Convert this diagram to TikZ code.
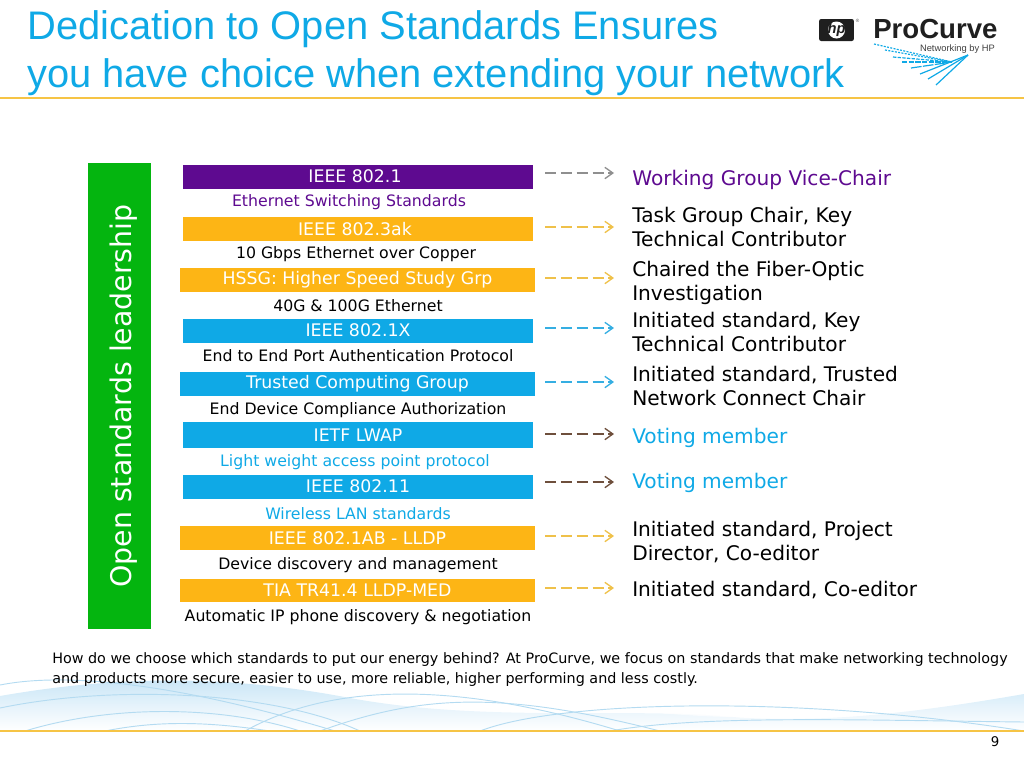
\documentclass[tikz,border=0pt]{standalone}
\usepackage{fontspec}
\setmainfont{DejaVu Sans}
\newfontfamily\titlefont{Liberation Sans}
\usetikzlibrary{arrows.meta}
\definecolor{hpblue}{HTML}{0FA9E6}
\definecolor{hppurple}{HTML}{5E0A90}
\definecolor{hporange}{HTML}{FDB515}
\definecolor{hpgreen}{HTML}{04B50F}
\definecolor{linegold}{HTML}{F6C445}
\definecolor{arrgrey}{HTML}{8F8F8F}
\definecolor{arrgold}{HTML}{EFC14A}
\definecolor{arrblue}{HTML}{35AEE2}
\definecolor{arrbrown}{HTML}{6E4F3C}
\definecolor{wavefill}{HTML}{C6E4F6}
\definecolor{waveline}{HTML}{B4DBF1}
\tikzset{
 x=0.75pt,y=-0.75pt,
 bar/.style={minimum height=18pt,inner sep=0pt,text=white,font=\fontsize{13}{15}\selectfont,anchor=center},
 sub/.style={inner sep=0pt,font=\fontsize{11.8}{14}\selectfont,anchor=center},
 lab/.style={inner sep=0pt,anchor=west,align=left,font=\fontsize{15.1}{18}\selectfont},
 arr/.style={line width=1pt,dash pattern=on 8.5pt off 3.4pt,-{Straight Barb[length=6pt,width=8.5pt]}},
 wave/.style={draw=waveline,line width=0.7pt},
 fan/.style={draw=hpblue,line width=0.9pt},
}
\begin{document}
\begin{tikzpicture}
\useasboundingbox (0,0) rectangle (1024,768);
% background waves
\shade[top color=wavefill,bottom color=white] (0,696) .. controls (120,675) and (230,675) .. (350,698) .. controls (480,722) and (620,708) .. (720,716) .. controls (820,725) and (920,712) .. (1024,694) -- (1024,731) -- (0,731) -- cycle;
\fill[white,opacity=0.7] (640,711) .. controls (700,700) and (800,702) .. (880,708) .. controls (820,720) and (720,720) .. (640,711) -- cycle;
\draw[wave] (0,708) .. controls (110,685) and (270,690) .. (360,731);
\draw[wave] (25,731) .. controls (110,705) and (220,705) .. (300,731);
\draw[wave] (105,731) .. controls (160,720) and (210,722) .. (270,731);
\draw[wave] (0,685) .. controls (50,675) and (150,675) .. (335,731);
\draw[wave] (245,731) .. controls (310,695) and (420,670) .. (620,731);
\draw[wave] (320,731) .. controls (420,695) and (500,690) .. (660,731);
\draw[wave] (480,731) .. controls (560,700) and (800,695) .. (1024,731);
\draw[wave] (610,731) .. controls (700,715) and (850,720) .. (1024,722);
% header
\node[inner sep=0pt,anchor=west,text=hpblue,font=\titlefont\fontsize{29.9}{34}\selectfont] (t1) at (27,29.5) {Dedication to Open Standards Ensures};
\node[inner sep=0pt,anchor=west,text=hpblue,font=\titlefont\fontsize{29.9}{34}\selectfont] (t2) at (27,77.5) {you have choice when extending your network};
\draw[linegold,line width=1.5pt] (0,97.5) -- (1024,97.5);
\draw[linegold,line width=2pt] (0,731) -- (1024,731);
% logo
\node[fill=black!88,rounded corners=1.5pt,minimum width=26pt,minimum height=16.5pt,inner sep=0pt] (hpbox) at (836.5,30) {};
\fill[white] (hpbox.center) circle (8.5);
\node[inner sep=0pt,text=black!88,font=\titlefont\bfseries\itshape\fontsize{11}{11}\selectfont] (hp) at (hpbox.center) {hp};
\node[inner sep=0pt,text=black!70,font=\titlefont\fontsize{3.5}{4}\selectfont] (reg) at (857.5,20.5) {®};
\node[inner sep=0pt,anchor=west,text=black!88,font=\titlefont\bfseries\fontsize{20.7}{22}\selectfont] (pc) at (873,29) {ProCurve};
\node[inner sep=0pt,anchor=east,text=black!75,font=\titlefont\fontsize{7}{8}\selectfont] (nb) at (995,49) {Networking by HP};
\coordinate (fo) at (968,55);
\coordinate (fu) at (952,62);
\foreach \px/\py/\dl in {874/44/1.5,885/50/1.5,893/57/2.5,902/62/4,911/68/8}
  \draw[fan,dash pattern=on \dl pt off 1pt] (\px,\py) -- (fu);
\foreach \px/\py in {920/74,928/79,936/85}
  \draw[fan] (\px,\py) -- (fo);
% green band
\node[fill=hpgreen,minimum width=47.25pt,minimum height=349.5pt,inner sep=0pt] (band) at (119.5,396) {};
\node[rotate=90,text=white,inner sep=0pt,font=\fontsize{21.3}{25}\selectfont] (bandt) at (124,396) {Open standards leadership};
% bars
\node[bar,fill=hppurple,minimum width=262.5pt] (b1) at (358,176.5) {\hspace*{-4.5pt}IEEE 802.1};
\node[bar,fill=hporange,minimum width=262.5pt] (b2) at (358,229) {\hspace*{-4.5pt}IEEE 802.3ak};
\node[bar,fill=hporange,minimum width=266.25pt] (b3) at (357.5,280) {HSSG: Higher Speed Study Grp};
\node[bar,fill=hpblue,minimum width=262.5pt] (b4) at (358,330.5) {IEEE 802.1X};
\node[bar,fill=hpblue,minimum width=266.25pt] (b5) at (357.5,384) {Trusted Computing Group};
\node[bar,fill=hpblue,minimum width=262.5pt,minimum height=19.5pt] (b6) at (358,435) {IETF LWAP};
\node[bar,fill=hpblue,minimum width=262.5pt] (b7) at (358,486.5) {IEEE 802.11};
\node[bar,fill=hporange,minimum width=266.25pt] (b8) at (357.5,538) {IEEE 802.1AB - LLDP};
\node[bar,fill=hporange,minimum width=266.25pt,minimum height=17.25pt] (b9) at (357.5,590.5) {TIA TR41.4 LLDP-MED};
% sub labels
\node[sub,text=hppurple] (s1) at (349,202.5) {Ethernet Switching Standards};
\node[sub] (s2) at (356,254) {10 Gbps Ethernet over Copper};
\node[sub] (s3) at (358,306) {40G \& 100G Ethernet};
\node[sub] (s4) at (358,355.5) {End to End Port Authentication Protocol};
\node[sub] (s5) at (358,410.5) {End Device Compliance Authorization};
\node[sub,text=hpblue] (s6) at (355,462.5) {Light weight access point protocol};
\node[sub,text=hpblue] (s7) at (358,514) {Wireless LAN standards};
\node[sub] (s8) at (358,565) {Device discovery and management};
\node[sub] (s9) at (358,617) {Automatic IP phone discovery \& negotiation};
% right labels
\node[lab,text=hppurple] (l1) at (632,180) {Working Group Vice-Chair};
\node[lab] (l2) at (632,227) {Task Group Chair, Key\\Technical Contributor};
\node[lab] (l3) at (632,283) {Chaired the Fiber-Optic\\Investigation};
\node[lab] (l4) at (632,332) {Initiated standard, Key\\Technical Contributor};
\node[lab] (l5) at (632,386) {Initiated standard, Trusted\\Network Connect Chair};
\node[lab,text=hpblue] (l6) at (632,438) {Voting member};
\node[lab,text=hpblue] (l7) at (632,483) {Voting member};
\node[lab] (l8) at (632,542) {Initiated standard, Project\\Director, Co-editor};
\node[lab] (l9) at (632,590) {Initiated standard, Co-editor};
% arrows
\foreach \i/\ya/\col in {1/173/arrgrey,2/227/arrgold,3/278/arrgold,4/328/arrblue,5/382/arrblue,6/434/arrbrown,7/482/arrbrown,8/536/arrgold,9/588/arrgold}{
  \coordinate (as\i) at (545,\ya);
  \coordinate (ae\i) at (614,\ya);
  \draw[arr,draw=\col] (as\i) -- (ae\i);
}
% footer
\node[inner sep=0pt,anchor=west,font=\fontsize{10.75}{13}\selectfont] (f1) at (52,660) {How do we choose which standards to put our energy behind? At ProCurve, we focus on standards that make networking technology};
\node[inner sep=0pt,anchor=west,font=\fontsize{10.75}{13}\selectfont] (f2) at (52,680) {and products more secure, easier to use, more reliable, higher performing and less costly.};
\node[inner sep=0pt,font=\fontsize{10}{12}\selectfont] (pg) at (995,742) {9};
\end{tikzpicture}
\end{document}
